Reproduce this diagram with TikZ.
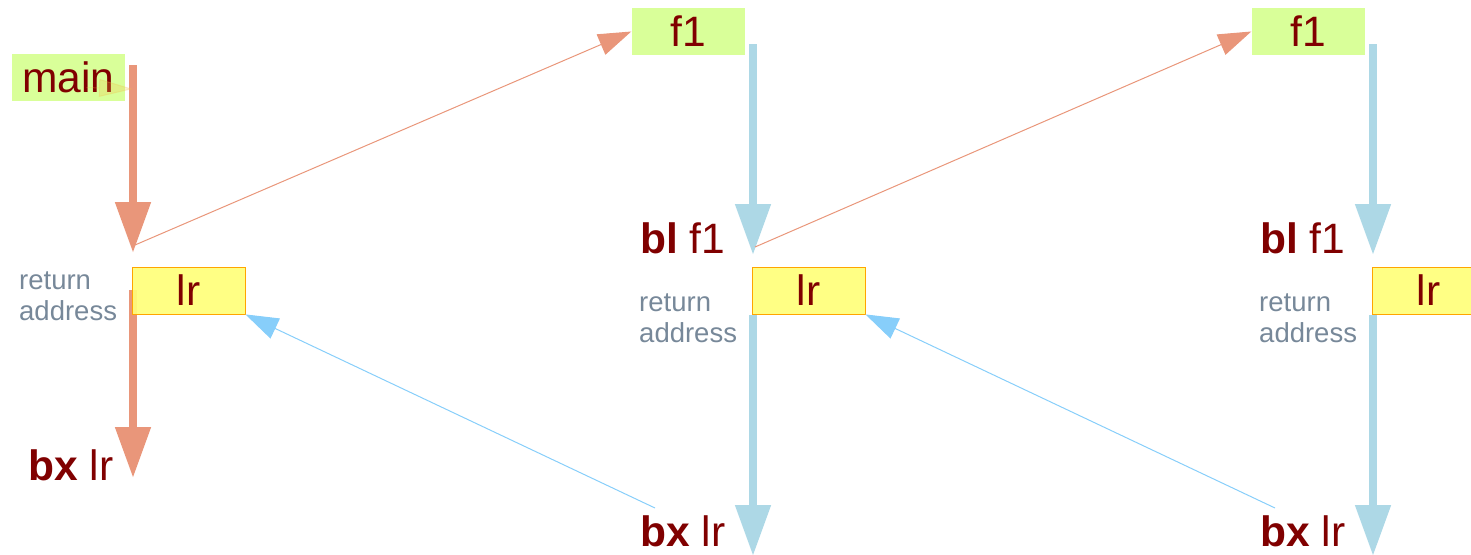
\documentclass[tikz,border=0pt]{standalone}
\usepackage{fontspec}
\setmainfont{Liberation Sans}
\usetikzlibrary{arrows.meta}
\definecolor{codered}{RGB}{128,0,0}
\definecolor{notegray}{RGB}{119,136,153}
\definecolor{callfill}{RGB}{217,255,153}
\definecolor{lrfill}{RGB}{255,255,122}
\definecolor{lredge}{RGB}{255,165,0}
\definecolor{salmonline}{RGB}{233,150,122}
\definecolor{blueline}{RGB}{173,216,230}
\definecolor{skyline}{RGB}{135,206,250}
\tikzset{
	big/.style={font=\fontsize{42.5}{50}\selectfont, text=codered},
	fbox/.style={big, fill=callfill, minimum width=113pt, minimum height=47pt, inner sep=0pt},
	lrbox/.style={big, fill=lrfill, fill opacity=0.92, text opacity=1, draw=lredge, line width=0.8pt, minimum width=113pt, minimum height=47pt, inner sep=0pt},
	ret/.style={font=\fontsize{27.5}{31}\selectfont, text=notegray, align=left, anchor=north west, inner sep=0pt},
	instr/.style={big, anchor=base west, inner sep=0pt},
	flow/.style={line width=8pt, -{Triangle[width=34pt,length=51pt]}},
	jump/.style={line width=1pt, -{Triangle[width=22pt,length=33pt]}},
}
\begin{document}
\begin{tikzpicture}[x=1pt, y=-1pt]
		\clip (0,0) rectangle (1471,554);
		\coordinate (a1) at (133,65); \coordinate (b1) at (133,253);
		\coordinate (c1) at (133,290); \coordinate (d1) at (133,478);
		\coordinate (a2) at (753,44); \coordinate (b2) at (753,255);
		\coordinate (c2) at (753,315); \coordinate (d2) at (753,556);
		\coordinate (a3) at (1373,44); \coordinate (b3) at (1373,255);
		\coordinate (c3) at (1373,315); \coordinate (d3) at (1373,556);
		\coordinate (ret1) at (655,508); \coordinate (ret2) at (1275,508);
		\draw[flow, salmonline] (a1) -- (b1);
		\draw[flow, salmonline] (c1) -- (d1);
		\draw[flow, blueline] (a2) -- (b2);
		\draw[flow, blueline] (c2) -- (d2);
		\draw[flow, blueline] (a3) -- (b3);
		\draw[flow, blueline] (c3) -- (d3);
		\node[fbox] (main) at (68.5,77.5) {main};
		\node[fbox] (f1a) at (688,31.5) {f1};
		\node[fbox] (f1b) at (1308,31.5) {f1};
		\node[lrbox] (lr1) at (188.5,290.5) {lr};
		\node[lrbox] (lr2) at (808.5,290.5) {lr};
		\node[lrbox] (lr3) at (1428.5,290.5) {lr};
		\node[ret] (note1) at (19,272) {return\\address};
		\node[ret] (note2) at (639,294) {return\\address};
		\node[ret] (note3) at (1259,294) {return\\address};
		\node[instr] (bx1) at (28,480) {\textbf{bx} lr};
		\node[instr] (bl2) at (640,253) {\textbf{bl} f1};
		\node[instr] (bx2) at (640,546) {\textbf{bx} lr};
		\node[instr] (bl3) at (1260,253) {\textbf{bl} f1};
		\node[instr] (bx3) at (1260,546) {\textbf{bx} lr};
		\draw[jump, salmonline!60!yellow, opacity=0.25, -{Triangle[width=18pt,length=34pt]}] (main.center) ++(18,10) -- (a1 |- 0,89);
		\draw[jump, salmonline] (b1) ++(2,-8) -- (f1a.west);
		\draw[jump, salmonline] (b2) ++(2,-8) -- (f1b.west);
		\draw[jump, skyline] (ret1) -- (lr1.south east);
		\draw[jump, skyline] (ret2) -- (lr2.south east);
\end{tikzpicture}
\end{document}
